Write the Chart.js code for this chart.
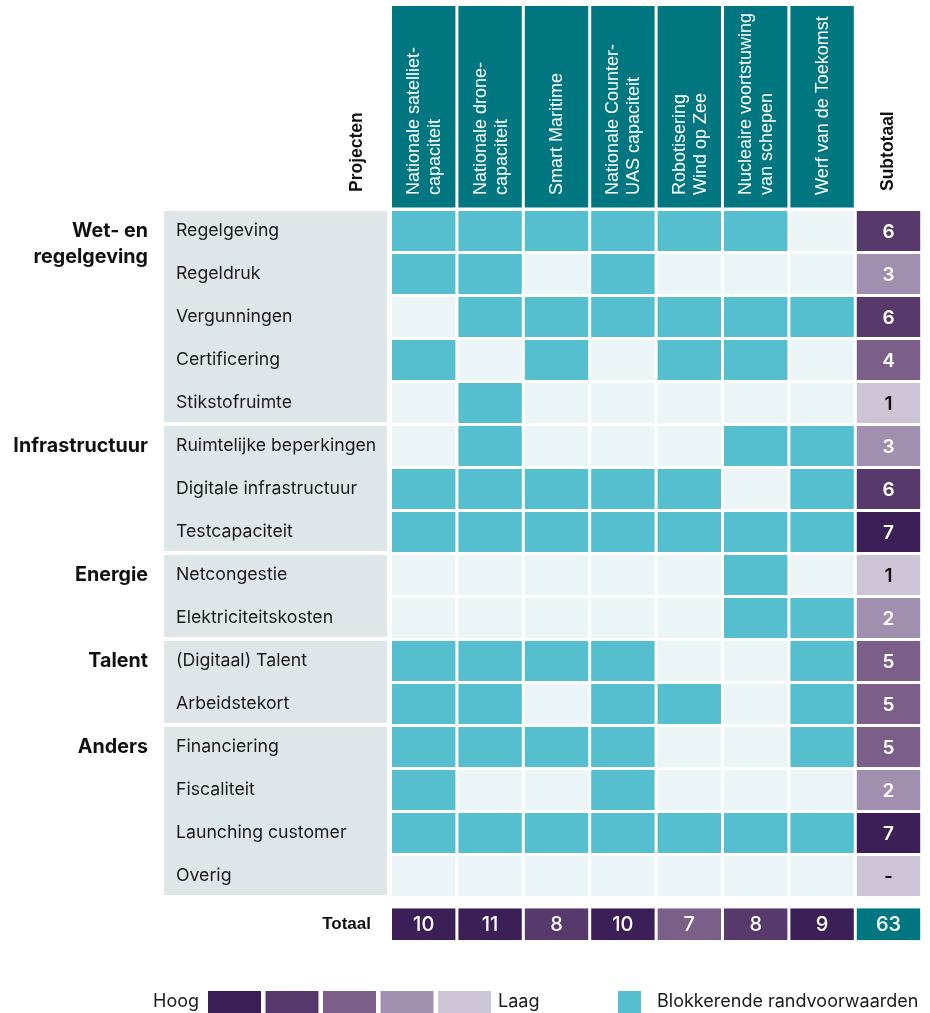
<!DOCTYPE html>
<html lang="nl">
<head>
<meta charset="utf-8">
<title>Blokkerende randvoorwaarden per project</title>
<script src="https://cdn.jsdelivr.net/npm/chart.js@4.4.1/dist/chart.umd.min.js"></script>
<style>
  html, body { margin: 0; padding: 0; background: #fff; }
  #wrap { width: 930px; height: 1013px; }
</style>
</head>
<body>
<div id="wrap"><canvas id="matrixChart" width="930" height="1013"></canvas></div>
<script>
// Kolomkoppen (per regel, van links naar rechts)
const projecten = [
  ['Nationale satelliet-', 'capaciteit'],
  ['Nationale drone-', 'capaciteit'],
  ['Smart Maritime'],
  ['Nationale Counter-', 'UAS capaciteit'],
  ['Robotisering', 'Wind op Zee'],
  ['Nucleaire voortstuwing', 'van schepen'],
  ['Werf van de Toekomst']
];

// Randvoorwaarden (rijen)
const randvoorwaarden = [
  'Regelgeving', 'Regeldruk', 'Vergunningen', 'Certificering', 'Stikstofruimte',
  'Ruimtelijke beperkingen', 'Digitale infrastructuur', 'Testcapaciteit',
  'Netcongestie', 'Elektriciteitskosten',
  '(Digitaal) Talent', 'Arbeidstekort',
  'Financiering', 'Fiscaliteit', 'Launching customer', 'Overig'
];

const groepen = [['Wet- en', 'regelgeving'], ['Infrastructuur'], ['Energie'], ['Talent'], ['Anders']];
const groepGrootte = [5, 3, 2, 2, 4];

// 1 = blokkerende randvoorwaarde
const matrix = [
  [1, 1, 1, 1, 1, 1, 0],
  [1, 1, 0, 1, 0, 0, 0],
  [0, 1, 1, 1, 1, 1, 1],
  [1, 0, 1, 0, 1, 1, 0],
  [0, 1, 0, 0, 0, 0, 0],
  [0, 1, 0, 0, 0, 1, 1],
  [1, 1, 1, 1, 1, 0, 1],
  [1, 1, 1, 1, 1, 1, 1],
  [0, 0, 0, 0, 0, 1, 0],
  [0, 0, 0, 0, 0, 1, 1],
  [1, 1, 1, 1, 0, 0, 1],
  [1, 1, 0, 1, 1, 0, 1],
  [1, 1, 1, 1, 0, 0, 1],
  [1, 0, 0, 1, 0, 0, 0],
  [1, 1, 1, 1, 1, 1, 1],
  [0, 0, 0, 0, 0, 0, 0]
];

const subtotalen = [6, 3, 6, 4, 1, 3, 6, 7, 1, 2, 5, 5, 5, 2, 7, 0];
const totalen = [10, 11, 8, 10, 7, 8, 9];
const eindTotaal = 63;

const heatKleuren = ['#3c1f57', '#58396b', '#7c5f89', '#a18fb0', '#cdc4d6'];
const tealDonker = '#007780';
const tealLicht = '#55bfcf';
const leegKleur = '#ebf4f6';
const bandKleur = '#dfe6e9';

const TOTAAL_Y = 16.12; // positie van de Totaal-rij op de y-as
const fontLabel = 'Inter, "Noto Sans", sans-serif';
const fontKop = '"Liberation Sans", Arial, sans-serif';

// Kleurindex voor subtotaal en totaal
function indexSubtotaal(v) {
  if (v >= 7) return 0;
  if (v >= 6) return 1;
  if (v >= 4) return 2;
  if (v >= 2) return 3;
  return 4;
}
function indexTotaal(v) {
  if (v >= 9) return 0;
  if (v >= 8) return 1;
  if (v >= 6) return 2;
  if (v >= 4) return 3;
  return 4;
}

// Datasets opbouwen
const celData = [], celKleuren = [];
matrix.forEach((rij, r) => {
  rij.forEach((v, c) => {
    celData.push({ x: [c, c + 1], y: r });
    celKleuren.push(v ? tealLicht : leegKleur);
  });
});

const subData = subtotalen.map((v, r) => ({ x: [projecten.length, projecten.length + 1], y: r }));
const subKleuren = subtotalen.map(v => heatKleuren[indexSubtotaal(v)]);

const totWaarden = [...totalen, eindTotaal];
const totData = totWaarden.map((v, c) => ({ x: [c, c + 1], y: TOTAAL_Y }));
const totKleuren = totalen.map(v => heatKleuren[indexTotaal(v)]).concat([tealDonker]);

const barStijl = {
  borderColor: '#ffffff',
  borderWidth: { left: 1.5, right: 1.5, top: 0, bottom: 0 },
  borderSkipped: false,
  inflateAmount: 0
};

const tekenPlugin = {
  id: 'tekenPlugin',
  beforeDatasetsDraw(chart) {
    const ctx = chart.ctx;
    const sx = chart.scales.x, sy = chart.scales.y;
    ctx.save();
    ctx.fillStyle = '#ffffff';
    ctx.fillRect(0, 0, chart.width, chart.height);

    // Kolomkoppen
    projecten.forEach((regels, c) => {
      const x0 = sx.getPixelForValue(c) + 1.5;
      const x1 = sx.getPixelForValue(c + 1) - 1.5;
      ctx.fillStyle = tealDonker;
      ctx.fillRect(x0, 6, x1 - x0, 201.5);
      ctx.save();
      ctx.translate((x0 + x1) / 2 + 1, 195);
      ctx.rotate(-Math.PI / 2);
      ctx.fillStyle = '#ffffff';
      ctx.font = '18px ' + fontKop;
      ctx.textAlign = 'left';
      ctx.textBaseline = 'middle';
      regels.forEach((t, i) => {
        ctx.fillText(t, 0, (i - (regels.length - 1) / 2) * 21);
      });
      ctx.restore();
    });

    // Subtotaal- en Projecten-kop
    const subX = (sx.getPixelForValue(projecten.length) + sx.getPixelForValue(projecten.length + 1)) / 2;
    [[subX, 'Subtotaal', 191], [357, 'Projecten', 192]].forEach(([x, t, yb]) => {
      ctx.save();
      ctx.translate(x, yb);
      ctx.rotate(-Math.PI / 2);
      ctx.fillStyle = '#111111';
      ctx.font = 'bold 17.5px ' + fontKop;
      ctx.textAlign = 'left';
      ctx.textBaseline = 'middle';
      ctx.fillText(t, 0, 0);
      ctx.restore();
    });

    // Grijze banden met labels
    let start = 0;
    groepGrootte.forEach((n, g) => {
      const top = sy.getPixelForValue(start) - 20;
      const bottom = sy.getPixelForValue(start + n - 1) + 19;
      ctx.fillStyle = bandKleur;
      ctx.fillRect(164, top, 387 - 164, bottom - top);

      ctx.fillStyle = '#111111';
      ctx.font = '700 19.7px ' + fontLabel;
      ctx.textAlign = 'right';
      ctx.textBaseline = 'middle';
      groepen[g].forEach((t, i) => {
        ctx.fillText(t, 148, sy.getPixelForValue(start) + i * 26);
      });
      start += n;
    });

    ctx.fillStyle = '#1a1a1a';
    ctx.font = '17.7px ' + fontLabel;
    ctx.textAlign = 'left';
    ctx.textBaseline = 'middle';
    randvoorwaarden.forEach((t, r) => {
      ctx.fillText(t, 176, sy.getPixelForValue(r));
    });

    ctx.fillStyle = '#111111';
    ctx.font = 'bold 17px ' + fontKop;
    ctx.textAlign = 'right';
    ctx.fillText('Totaal', 371, sy.getPixelForValue(TOTAAL_Y));
    ctx.restore();
  },
  afterDatasetsDraw(chart) {
    const ctx = chart.ctx;
    const sx = chart.scales.x, sy = chart.scales.y;
    ctx.save();
    ctx.textAlign = 'center';
    ctx.textBaseline = 'middle';

    // Getallen in subtotaal-kolom
    const subX = (sx.getPixelForValue(projecten.length) + sx.getPixelForValue(projecten.length + 1)) / 2;
    ctx.font = '600 19px ' + fontLabel;
    subtotalen.forEach((v, r) => {
      const idx = indexSubtotaal(v);
      ctx.fillStyle = idx === 4 ? '#111111' : '#ffffff';
      ctx.fillText(v === 0 ? '-' : String(v), subX, sy.getPixelForValue(r) + 1);
    });

    // Totaal-rij
    ctx.font = '500 20px ' + fontLabel;
    ctx.fillStyle = '#ffffff';
    totWaarden.forEach((v, c) => {
      const x = (sx.getPixelForValue(c) + sx.getPixelForValue(c + 1)) / 2;
      ctx.fillText(String(v), x, sy.getPixelForValue(TOTAAL_Y) + 1);
    });

    // Legenda
    const ly = 991, lh = 22;
    heatKleuren.forEach((k, i) => {
      ctx.fillStyle = k;
      ctx.fillRect(208 + i * 57.5, ly, 53, lh);
    });
    ctx.fillStyle = '#1a1a1a';
    ctx.font = '18px ' + fontLabel;
    ctx.textAlign = 'right';
    ctx.fillText('Hoog', 199, ly + 11);
    ctx.textAlign = 'left';
    ctx.fillText('Laag', 498, ly + 11);

    ctx.fillStyle = tealLicht;
    ctx.fillRect(618, ly, 23, lh);
    ctx.fillStyle = '#1a1a1a';
    ctx.fillText('Blokkerende randvoorwaarden', 657, ly + 11);
    ctx.restore();
  }
};

const ctx = document.getElementById('matrixChart').getContext('2d');
const myChart = new Chart(ctx, {
  type: 'bar',
  data: {
    datasets: [
      { label: 'Blokkerende randvoorwaarden', data: celData, backgroundColor: celKleuren, barThickness: 40, ...barStijl },
      { label: 'Subtotaal', data: subData, backgroundColor: subKleuren, barThickness: 40, ...barStijl },
      { label: 'Totaal', data: totData, backgroundColor: totKleuren, barThickness: 32, ...barStijl }
    ]
  },
  options: {
    responsive: false,
    animation: false,
    indexAxis: 'y',
    grouped: false,
    layout: { padding: { top: 209.5, bottom: 72.5, left: 390.5, right: 8.3 } },
    plugins: { legend: { display: false }, tooltip: { enabled: false } },
    scales: {
      x: { type: 'linear', min: 0, max: projecten.length + 1, offset: false, display: false },
      y: { type: 'linear', reverse: true, min: -0.5, max: 16.5, offset: false, display: false }
    }
  },
  plugins: [tekenPlugin]
});
</script>
</body>
</html>
